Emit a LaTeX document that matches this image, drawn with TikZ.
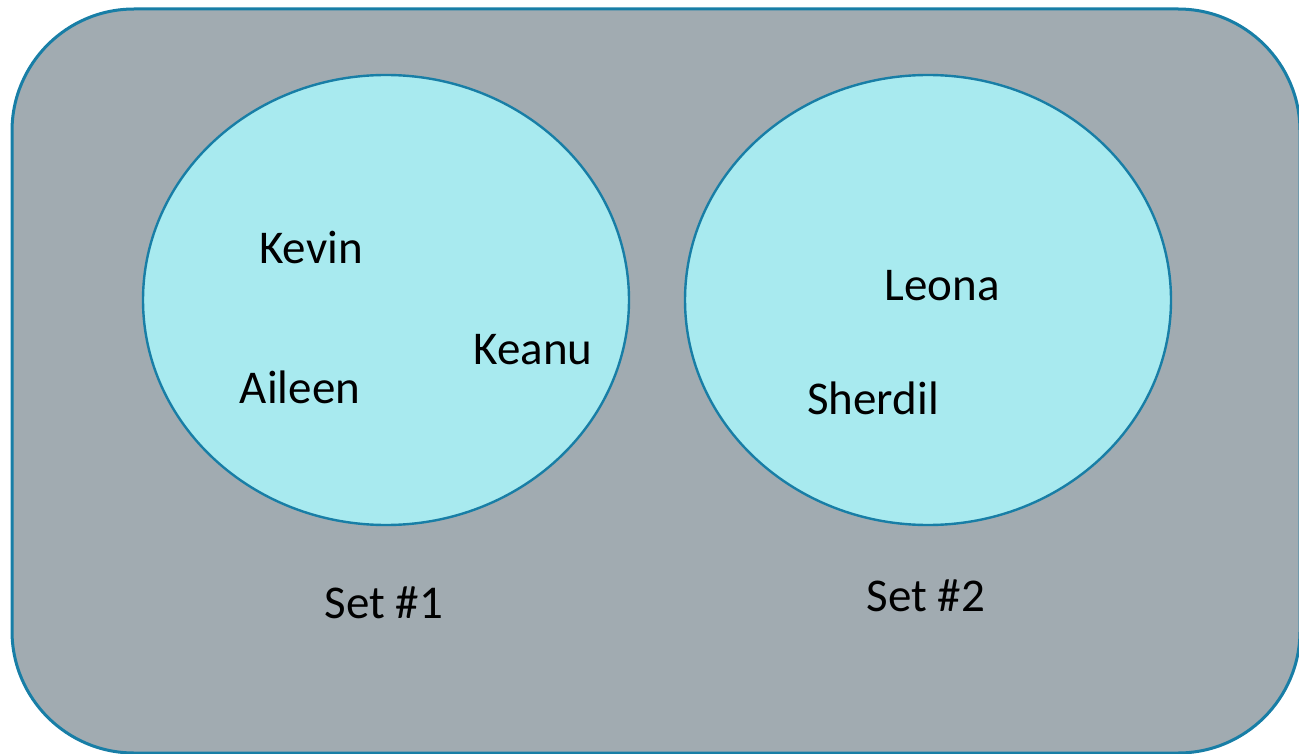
\documentclass[tikz,border=0pt]{standalone}
\usepackage{fontspec}
\setmainfont{Carlito}
\usepackage{xcolor}
\usetikzlibrary{shapes.geometric}

\definecolor{frameblue}{RGB}{24,126,166}
\definecolor{panelgray}{RGB}{161,171,177}
\definecolor{setcyan}{RGB}{168,234,239}

\tikzset{
  setblob/.style={ellipse, draw=frameblue, fill=setcyan, line width=2.4pt, inner sep=0pt, minimum width=486pt, minimum height=450pt},
  namelabel/.style={anchor=base, inner sep=0pt, font=\fontsize{47}{56}\selectfont}
}

\begin{document}
\begin{tikzpicture}[x=1pt, y=-1pt]
\useasboundingbox (0,0) rectangle (1299,754);
\draw[frameblue, fill=panelgray, line width=3pt, rounded corners=122pt] (12,9) rectangle (1300,753);
\node[setblob] (set1) at (386,300) {}; \node[setblob] (set2) at (928,300) {};
\node[namelabel] (kevin) at (311,264) {Kevin}; \node[namelabel] (aileen) at (300,403) {Aileen};
\node[namelabel] (keanu) at (533,364) {Keanu};
\node[namelabel] (leona) at (942,301) {Leona}; \node[namelabel] (sherdil) at (873,414) {Sherdil};
\node[namelabel] (lab1) at (384,618) {Set \#1}; \node[namelabel] (lab2) at (926,611) {Set \#2};
\end{tikzpicture}
\end{document}
